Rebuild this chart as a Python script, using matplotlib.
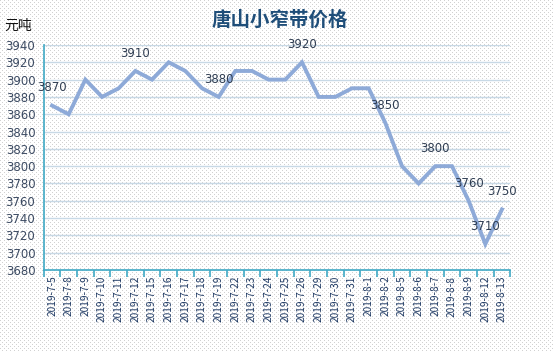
import numpy as np
import matplotlib
matplotlib.use("Agg")
import matplotlib.pyplot as plt
from matplotlib.ticker import FixedLocator, MultipleLocator

plt.rcParams['font.family'] = ['Noto Sans CJK SC', 'DejaVu Sans']

dates = ["2019-7-5", "2019-7-8", "2019-7-9", "2019-7-10", "2019-7-11", "2019-7-12",
         "2019-7-15", "2019-7-16", "2019-7-17", "2019-7-18", "2019-7-19", "2019-7-22",
         "2019-7-23", "2019-7-24", "2019-7-25", "2019-7-26", "2019-7-29", "2019-7-30",
         "2019-7-31", "2019-8-1", "2019-8-2", "2019-8-5", "2019-8-6", "2019-8-7",
         "2019-8-8", "2019-8-9", "2019-8-12", "2019-8-13"]
prices = [3870, 3860, 3900, 3880, 3890, 3910, 3900, 3920, 3910, 3890, 3880, 3910,
          3910, 3900, 3900, 3920, 3880, 3880, 3890, 3890, 3850, 3800, 3780, 3800,
          3800, 3760, 3710, 3750]
labeled_idx = [0, 5, 10, 15, 20, 23, 25, 26, 27]
title = "唐山小窄带价格"
unit = "元吨"

W, H, DPI = 554, 352, 100
fig = plt.figure(figsize=(W / DPI, H / DPI), dpi=DPI)
fig.patch.set_facecolor('white')

# dotted background texture
bg = np.ones((H, W, 3))
yy, xx = np.mgrid[0:H, 0:W]
mask = ((yy % 4 == 0) & (xx % 4 == 0)) | ((yy % 4 == 2) & (xx % 4 == 2))
bg[mask] = np.array([0.82, 0.82, 0.82])
fig.figimage(bg, xo=0, yo=0, zorder=0)

ax = fig.add_axes([43.7 / W, 1 - 270 / H, (510.3 - 43.7) / W, (270 - 45) / H])
ax.set_facecolor('none')
ax.set_zorder(1)

x = np.arange(len(dates))
ax.plot(x, prices, color='#8eaad8', lw=2.8, solid_joinstyle='miter', zorder=3)

for i in labeled_idx:
    ax.annotate(str(prices[i]), (x[i], prices[i]), xytext=(0, 8), textcoords='offset points',
                ha='center', va='bottom', fontsize=8.5, color='#2f3d52', zorder=4,
                family=['DejaVu Sans'])

ax.set_xlim(-0.5, len(dates) - 0.5)
ax.set_ylim(3680, 3940)
ax.yaxis.set_major_locator(MultipleLocator(20))
ax.grid(axis='y', color='#c8d9e6', lw=1.0, zorder=1)
ax.set_axisbelow(True)

ax.set_xticks(x)
ax.set_xticklabels(dates, rotation=90, fontsize=7.3, color='#1f3a64')
ax.xaxis.set_minor_locator(FixedLocator(np.arange(-0.5, len(dates), 1.0)))
ax.tick_params(axis='x', which='major', length=0, pad=4)
ax.tick_params(axis='x', which='minor', length=5, width=1.2, color='#3fa9c5')
ax.tick_params(axis='y', length=0, pad=6, labelsize=8.5, labelcolor='#3b4a62')
for lab in ax.get_yticklabels():
    lab.set_family(['DejaVu Sans'])

for s in ['top', 'right']:
    ax.spines[s].set_visible(False)
for s in ['left', 'bottom']:
    ax.spines[s].set_color('#3fa9c5')
    ax.spines[s].set_linewidth(1.2)

fig.text(280 / W, 1 - 20 / H, title, ha='center', va='center', fontsize=14,
         fontweight='bold', color='#1f4e79')
fig.text(4 / W, 1 - 26 / H, unit, ha='left', va='center', fontsize=10, color='#111111')

fig.savefig('out.png', dpi=DPI)
